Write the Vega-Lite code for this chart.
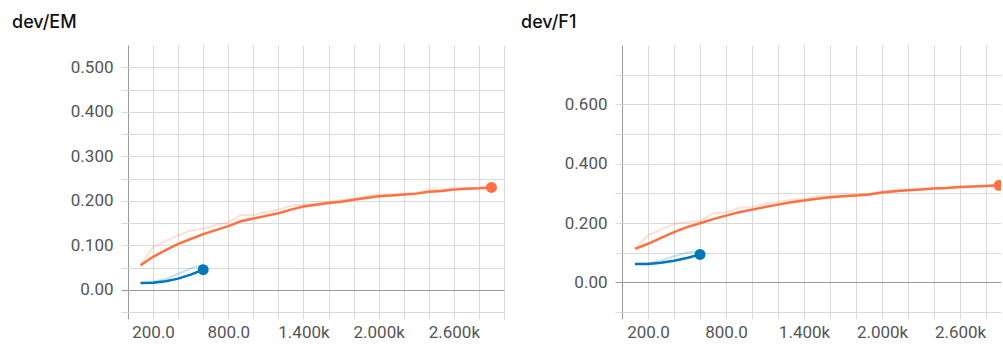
{
  "$schema": "https://vega.github.io/schema/vega-lite/v6.json",
  "padding": {"left": 0, "top": 14, "right": 0, "bottom": 0},
  "spacing": 0,
  "background": "white",
  "datasets": {
    "scalars": [
      {"metric": "EM", "run": "run_1", "step": 100, "raw": 0.055, "smooth": 0.055},
      {"metric": "EM", "run": "run_1", "step": 200, "raw": 0.096, "smooth": 0.074},
      {"metric": "EM", "run": "run_1", "step": 300, "raw": 0.110, "smooth": 0.089},
      {"metric": "EM", "run": "run_1", "step": 400, "raw": 0.122, "smooth": 0.103},
      {"metric": "EM", "run": "run_1", "step": 500, "raw": 0.133, "smooth": 0.114},
      {"metric": "EM", "run": "run_1", "step": 600, "raw": 0.137, "smooth": 0.125},
      {"metric": "EM", "run": "run_1", "step": 700, "raw": 0.146, "smooth": 0.134},
      {"metric": "EM", "run": "run_1", "step": 800, "raw": 0.151, "smooth": 0.143},
      {"metric": "EM", "run": "run_1", "step": 900, "raw": 0.168, "smooth": 0.154},
      {"metric": "EM", "run": "run_1", "step": 1000, "raw": 0.168, "smooth": 0.160},
      {"metric": "EM", "run": "run_1", "step": 1100, "raw": 0.174, "smooth": 0.166},
      {"metric": "EM", "run": "run_1", "step": 1200, "raw": 0.180, "smooth": 0.172},
      {"metric": "EM", "run": "run_1", "step": 1300, "raw": 0.189, "smooth": 0.180},
      {"metric": "EM", "run": "run_1", "step": 1400, "raw": 0.191, "smooth": 0.187},
      {"metric": "EM", "run": "run_1", "step": 1500, "raw": 0.195, "smooth": 0.191},
      {"metric": "EM", "run": "run_1", "step": 1600, "raw": 0.198, "smooth": 0.195},
      {"metric": "EM", "run": "run_1", "step": 1700, "raw": 0.201, "smooth": 0.198},
      {"metric": "EM", "run": "run_1", "step": 1800, "raw": 0.205, "smooth": 0.202},
      {"metric": "EM", "run": "run_1", "step": 1900, "raw": 0.210, "smooth": 0.206},
      {"metric": "EM", "run": "run_1", "step": 2000, "raw": 0.214, "smooth": 0.210},
      {"metric": "EM", "run": "run_1", "step": 2100, "raw": 0.214, "smooth": 0.212},
      {"metric": "EM", "run": "run_1", "step": 2200, "raw": 0.216, "smooth": 0.214},
      {"metric": "EM", "run": "run_1", "step": 2300, "raw": 0.218, "smooth": 0.216},
      {"metric": "EM", "run": "run_1", "step": 2400, "raw": 0.225, "smooth": 0.220},
      {"metric": "EM", "run": "run_1", "step": 2500, "raw": 0.226, "smooth": 0.222},
      {"metric": "EM", "run": "run_1", "step": 2600, "raw": 0.228, "smooth": 0.225},
      {"metric": "EM", "run": "run_1", "step": 2700, "raw": 0.229, "smooth": 0.227},
      {"metric": "EM", "run": "run_1", "step": 2800, "raw": 0.229, "smooth": 0.228},
      {"metric": "EM", "run": "run_1", "step": 2900, "raw": 0.230, "smooth": 0.230},
      {"metric": "EM", "run": "run_2", "step": 100, "raw": 0.015, "smooth": 0.015},
      {"metric": "EM", "run": "run_2", "step": 200, "raw": 0.018, "smooth": 0.0155},
      {"metric": "EM", "run": "run_2", "step": 300, "raw": 0.024, "smooth": 0.019},
      {"metric": "EM", "run": "run_2", "step": 400, "raw": 0.036, "smooth": 0.025},
      {"metric": "EM", "run": "run_2", "step": 500, "raw": 0.048, "smooth": 0.034},
      {"metric": "EM", "run": "run_2", "step": 600, "raw": 0.057, "smooth": 0.045},
      {"metric": "F1", "run": "run_1", "step": 100, "raw": 0.113, "smooth": 0.113},
      {"metric": "F1", "run": "run_1", "step": 200, "raw": 0.158, "smooth": 0.130},
      {"metric": "F1", "run": "run_1", "step": 300, "raw": 0.178, "smooth": 0.150},
      {"metric": "F1", "run": "run_1", "step": 400, "raw": 0.197, "smooth": 0.169},
      {"metric": "F1", "run": "run_1", "step": 500, "raw": 0.203, "smooth": 0.186},
      {"metric": "F1", "run": "run_1", "step": 600, "raw": 0.207, "smooth": 0.199},
      {"metric": "F1", "run": "run_1", "step": 700, "raw": 0.232, "smooth": 0.213},
      {"metric": "F1", "run": "run_1", "step": 800, "raw": 0.236, "smooth": 0.225},
      {"metric": "F1", "run": "run_1", "step": 900, "raw": 0.251, "smooth": 0.236},
      {"metric": "F1", "run": "run_1", "step": 1000, "raw": 0.253, "smooth": 0.245},
      {"metric": "F1", "run": "run_1", "step": 1100, "raw": 0.265, "smooth": 0.254},
      {"metric": "F1", "run": "run_1", "step": 1200, "raw": 0.270, "smooth": 0.262},
      {"metric": "F1", "run": "run_1", "step": 1300, "raw": 0.279, "smooth": 0.270},
      {"metric": "F1", "run": "run_1", "step": 1400, "raw": 0.282, "smooth": 0.276},
      {"metric": "F1", "run": "run_1", "step": 1500, "raw": 0.290, "smooth": 0.282},
      {"metric": "F1", "run": "run_1", "step": 1600, "raw": 0.292, "smooth": 0.287},
      {"metric": "F1", "run": "run_1", "step": 1700, "raw": 0.294, "smooth": 0.290},
      {"metric": "F1", "run": "run_1", "step": 1800, "raw": 0.296, "smooth": 0.293},
      {"metric": "F1", "run": "run_1", "step": 1900, "raw": 0.299, "smooth": 0.296},
      {"metric": "F1", "run": "run_1", "step": 2000, "raw": 0.307, "smooth": 0.303},
      {"metric": "F1", "run": "run_1", "step": 2100, "raw": 0.310, "smooth": 0.307},
      {"metric": "F1", "run": "run_1", "step": 2200, "raw": 0.313, "smooth": 0.310},
      {"metric": "F1", "run": "run_1", "step": 2300, "raw": 0.316, "smooth": 0.313},
      {"metric": "F1", "run": "run_1", "step": 2400, "raw": 0.318, "smooth": 0.316},
      {"metric": "F1", "run": "run_1", "step": 2500, "raw": 0.320, "smooth": 0.318},
      {"metric": "F1", "run": "run_1", "step": 2600, "raw": 0.322, "smooth": 0.321},
      {"metric": "F1", "run": "run_1", "step": 2700, "raw": 0.324, "smooth": 0.323},
      {"metric": "F1", "run": "run_1", "step": 2800, "raw": 0.326, "smooth": 0.325},
      {"metric": "F1", "run": "run_1", "step": 2900, "raw": 0.327, "smooth": 0.327},
      {"metric": "F1", "run": "run_2", "step": 100, "raw": 0.062, "smooth": 0.062},
      {"metric": "F1", "run": "run_2", "step": 200, "raw": 0.064, "smooth": 0.062},
      {"metric": "F1", "run": "run_2", "step": 300, "raw": 0.074, "smooth": 0.066},
      {"metric": "F1", "run": "run_2", "step": 400, "raw": 0.088, "smooth": 0.073},
      {"metric": "F1", "run": "run_2", "step": 500, "raw": 0.100, "smooth": 0.082},
      {"metric": "F1", "run": "run_2", "step": 600, "raw": 0.106, "smooth": 0.094}
    ]
  },
  "data": {"name": "scalars"},
  "hconcat": [
    {
      "width": 376,
      "height": 267,
      "title": {"text": "dev/EM", "anchor": "start", "frame": "group", "dx": -116, "offset": -1, "baseline": "alphabetic", "fontSize": 18, "fontWeight": 500, "font": "Inter", "color": "#111"},
      "transform": [{"filter": "datum.metric == 'EM'"}],
      "encoding": {
        "x": {
          "field": "step", "type": "quantitative",
          "scale": {"domain": [0, 3000], "nice": false, "zero": false},
          "axis": {
            "title": null,
            "labelPadding": 5,
            "values": [0, 200, 400, 600, 800, 1000, 1200, 1400, 1600, 1800, 2000, 2200, 2400, 2600, 2800, 3000],
            "labelExpr": "(datum.value - 200) % 600 == 0 ? (datum.value < 1000 ? format(datum.value, '.1f') : format(datum.value / 1000, '.3f') + 'k') : ''",
            "gridColor": {"condition": {"test": "datum.value == 0", "value": "#9a9a9a"}, "value": "#dadada"},
            "tickColor": {"condition": {"test": "datum.value == 0", "value": "#9a9a9a"}, "value": "#dadada"}
          }
        },
        "color": {"field": "run", "type": "nominal", "scale": {"domain": ["run_1", "run_2"], "range": ["#ff7043", "#0077bb"]}, "legend": null}
      },
      "layer": [
        {
          "mark": {"type": "line", "strokeWidth": 2, "opacity": 0.22, "clip": true},
          "encoding": {
            "y": {
              "field": "raw", "type": "quantitative",
              "scale": {"domain": [-0.05, 0.55], "nice": false, "zero": false},
              "axis": {
                "title": null, "minExtent": 128,
                "values": [-0.05, 0, 0.05, 0.1, 0.15, 0.2, 0.25, 0.3, 0.35, 0.4, 0.45, 0.5],
                "labelExpr": "datum.value == 0 ? '0.00' : (datum.value > 0 && abs(round(datum.value * 10) - datum.value * 10) < 0.01 ? format(datum.value, '.3f') : '')",
                "gridColor": {"condition": {"test": "datum.value == 0", "value": "#9a9a9a"}, "value": "#dadada"},
                "tickColor": {"condition": {"test": "datum.value == 0", "value": "#9a9a9a"}, "value": "#dadada"}
              }
            }
          }
        },
        {
          "mark": {"type": "line", "strokeWidth": 2.5, "clip": true},
          "encoding": {
            "y": {
              "field": "smooth", "type": "quantitative",
              "scale": {"domain": [-0.05, 0.55], "nice": false, "zero": false},
              "axis": {
                "title": null, "minExtent": 128,
                "values": [-0.05, 0, 0.05, 0.1, 0.15, 0.2, 0.25, 0.3, 0.35, 0.4, 0.45, 0.5],
                "labelExpr": "datum.value == 0 ? '0.00' : (datum.value > 0 && abs(round(datum.value * 10) - datum.value * 10) < 0.01 ? format(datum.value, '.3f') : '')",
                "gridColor": {"condition": {"test": "datum.value == 0", "value": "#9a9a9a"}, "value": "#dadada"},
                "tickColor": {"condition": {"test": "datum.value == 0", "value": "#9a9a9a"}, "value": "#dadada"}
              }
            }
          }
        },
        {
          "transform": [
            {"joinaggregate": [{"op": "max", "field": "step", "as": "last"}], "groupby": ["run"]},
            {"filter": "datum.step == datum.last"}
          ],
          "mark": {"type": "circle", "size": 120, "opacity": 1},
          "encoding": {
            "y": {
              "field": "smooth", "type": "quantitative",
              "scale": {"domain": [-0.05, 0.55], "nice": false, "zero": false},
              "axis": {
                "title": null, "minExtent": 128,
                "values": [-0.05, 0, 0.05, 0.1, 0.15, 0.2, 0.25, 0.3, 0.35, 0.4, 0.45, 0.5],
                "labelExpr": "datum.value == 0 ? '0.00' : (datum.value > 0 && abs(round(datum.value * 10) - datum.value * 10) < 0.01 ? format(datum.value, '.3f') : '')",
                "gridColor": {"condition": {"test": "datum.value == 0", "value": "#9a9a9a"}, "value": "#dadada"},
                "tickColor": {"condition": {"test": "datum.value == 0", "value": "#9a9a9a"}, "value": "#dadada"}
              }
            }
          }
        }
      ]
    },
    {
      "width": 379,
      "height": 267,
      "title": {"text": "dev/F1", "anchor": "start", "frame": "group", "dx": -101, "offset": -1, "baseline": "alphabetic", "fontSize": 18, "fontWeight": 500, "font": "Inter", "color": "#111"},
      "transform": [{"filter": "datum.metric == 'F1'"}],
      "encoding": {
        "x": {
          "field": "step", "type": "quantitative",
          "scale": {"domain": [0, 2915], "nice": false, "zero": false},
          "axis": {
            "title": null,
            "labelPadding": 5,
            "values": [0, 200, 400, 600, 800, 1000, 1200, 1400, 1600, 1800, 2000, 2200, 2400, 2600, 2800],
            "labelExpr": "(datum.value - 200) % 600 == 0 ? (datum.value < 1000 ? format(datum.value, '.1f') : format(datum.value / 1000, '.3f') + 'k') : ''",
            "gridColor": {"condition": {"test": "datum.value == 0", "value": "#9a9a9a"}, "value": "#dadada"},
            "tickColor": {"condition": {"test": "datum.value == 0", "value": "#9a9a9a"}, "value": "#dadada"}
          }
        },
        "color": {"field": "run", "type": "nominal", "scale": {"domain": ["run_1", "run_2"], "range": ["#ff7043", "#0077bb"]}, "legend": null}
      },
      "layer": [
        {
          "mark": {"type": "line", "strokeWidth": 2, "opacity": 0.22, "clip": true},
          "encoding": {
            "y": {
              "field": "raw", "type": "quantitative",
              "scale": {"domain": [-0.1, 0.8], "nice": false, "zero": false},
              "axis": {
                "title": null, "minExtent": 117,
                "values": [-0.1, 0, 0.1, 0.2, 0.3, 0.4, 0.5, 0.6, 0.7],
                "labelExpr": "datum.value == 0 ? '0.00' : (datum.value > 0 && round(datum.value * 10) % 2 == 0 ? format(datum.value, '.3f') : '')",
                "gridColor": {"condition": {"test": "datum.value == 0", "value": "#9a9a9a"}, "value": "#dadada"},
                "tickColor": {"condition": {"test": "datum.value == 0", "value": "#9a9a9a"}, "value": "#dadada"}
              }
            }
          }
        },
        {
          "mark": {"type": "line", "strokeWidth": 2.5, "clip": true},
          "encoding": {
            "y": {
              "field": "smooth", "type": "quantitative",
              "scale": {"domain": [-0.1, 0.8], "nice": false, "zero": false},
              "axis": {
                "title": null, "minExtent": 117,
                "values": [-0.1, 0, 0.1, 0.2, 0.3, 0.4, 0.5, 0.6, 0.7],
                "labelExpr": "datum.value == 0 ? '0.00' : (datum.value > 0 && round(datum.value * 10) % 2 == 0 ? format(datum.value, '.3f') : '')",
                "gridColor": {"condition": {"test": "datum.value == 0", "value": "#9a9a9a"}, "value": "#dadada"},
                "tickColor": {"condition": {"test": "datum.value == 0", "value": "#9a9a9a"}, "value": "#dadada"}
              }
            }
          }
        },
        {
          "transform": [
            {"joinaggregate": [{"op": "max", "field": "step", "as": "last"}], "groupby": ["run"]},
            {"filter": "datum.step == datum.last"}
          ],
          "mark": {"type": "circle", "size": 120, "opacity": 1, "clip": true},
          "encoding": {
            "y": {
              "field": "smooth", "type": "quantitative",
              "scale": {"domain": [-0.1, 0.8], "nice": false, "zero": false},
              "axis": {
                "title": null, "minExtent": 117,
                "values": [-0.1, 0, 0.1, 0.2, 0.3, 0.4, 0.5, 0.6, 0.7],
                "labelExpr": "datum.value == 0 ? '0.00' : (datum.value > 0 && round(datum.value * 10) % 2 == 0 ? format(datum.value, '.3f') : '')",
                "gridColor": {"condition": {"test": "datum.value == 0", "value": "#9a9a9a"}, "value": "#dadada"},
                "tickColor": {"condition": {"test": "datum.value == 0", "value": "#9a9a9a"}, "value": "#dadada"}
              }
            }
          }
        }
      ]
    }
  ],
  "config": {
    "view": {"stroke": null},
    "axis": {
      "domain": false,
      "tickSize": 7,
      "tickWidth": 1,
      "gridWidth": 1,
      "labelPadding": 8,
      "labelFont": "Roboto",
      "labelFontSize": 17,
      "labelFontWeight": 400,
      "labelColor": "#555555",
      "labelOverlap": false,
      "labelFlush": false,
      "labelBound": false
    }
  }
}
